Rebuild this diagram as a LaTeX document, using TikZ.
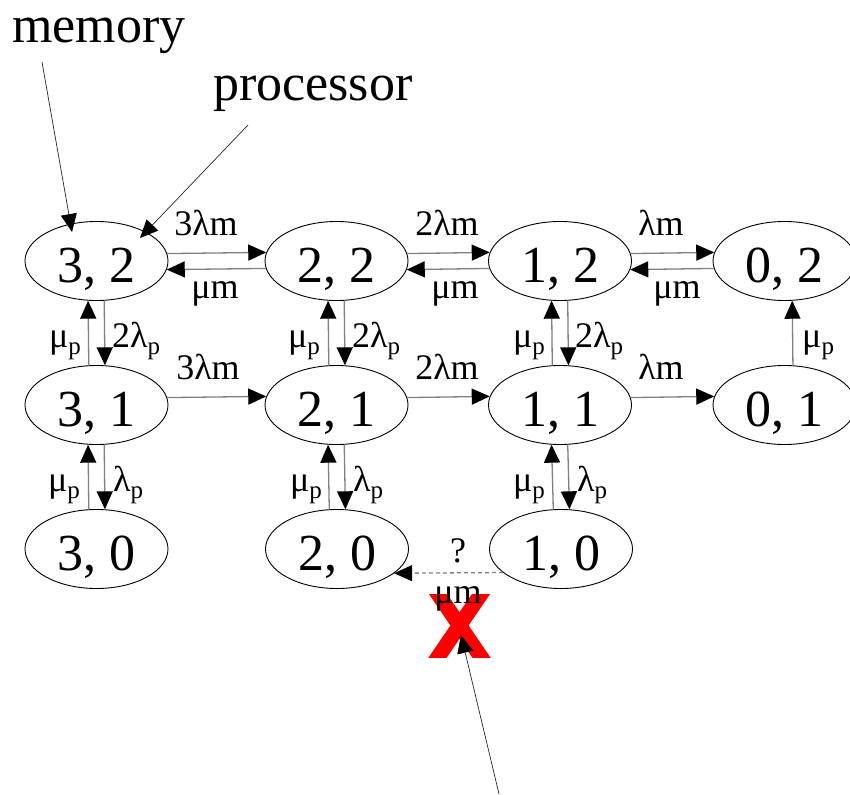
\documentclass[tikz,border=0pt]{standalone}
\usepackage{fontspec}
\setmainfont{Liberation Serif}
\usetikzlibrary{shapes.geometric,arrows.meta}

% lowered subscript p used in the rate labels
\newcommand{\subp}{\raisebox{-7pt}{\fontsize{25}{25}\selectfont p}}

\begin{document}
\begin{tikzpicture}[x=1pt,y=-1pt,
  state/.style={ellipse,draw=black,line width=0.9pt,inner sep=0pt,
    minimum width=143pt,minimum height=79pt,
    font=\fontsize{52}{52}\selectfont,text height=42pt,text depth=0pt},
  lbl/.style={font=\fontsize{36}{36}\selectfont,inner sep=0pt,anchor=base},
  lblL/.style={lbl,anchor=base east},
  lblR/.style={lbl,anchor=base west},
  title/.style={font=\fontsize{52}{52}\selectfont,inner sep=0pt,anchor=base west},
  head/.style={-{Triangle[length=18pt,width=16pt,color=black]}},
  flow/.style={draw=gray,line width=1.3pt,head},
  ptr/.style={draw=black!85,line width=0.7pt,head}
]
\useasboundingbox (0,0) rectangle (850,794);

% states (memory, processor)
\node[state] (n32) at (96.5,261) {3, 2};
\node[state] (n22) at (336.5,261) {2, 2};
\node[state] (n12) at (560,261) {1, 2};
\node[state] (n02) at (784.5,261) {0, 2};
\node[state] (n31) at (96.5,405) {3, 1};
\node[state] (n21) at (336.5,405) {2, 1};
\node[state] (n11) at (560,405) {1, 1};
\node[state] (n01) at (784.5,405) {0, 1};
\node[state] (n30) at (96.5,549) {3, 0};
\node[state] (n20) at (337,549) {2, 0};
\node[state] (n10) at (561,549) {1, 0};

% horizontal transitions, top row
\draw[flow] (n32.6.5) -- (n22.173.5);
\draw[flow] (n22.186.5) -- (n32.353.5);
\draw[flow] (n22.6.5) -- (n12.173.5);
\draw[flow] (n12.186.5) -- (n22.353.5);
\draw[flow] (n12.6.5) -- (n02.173.5);
\draw[flow] (n02.186.5) -- (n12.353.5);
% horizontal transitions, middle row
\draw[flow] (n31.6.5) -- (n21.173.5);
\draw[flow] (n21.6.5) -- (n11.173.5);
\draw[flow] (n11.6.5) -- (n01.173.5);

% vertical transitions
\foreach \u/\l in {32/31,22/21,12/11,31/30,21/20,11/10}{
  \draw[flow] (n\l.101.5) -- (n\u.258.5);
  \draw[flow] (n\u.281.5) -- (n\l.78.5);
}
\draw[flow] (n01.78.5) -- (n02.281.5);

% lost transition
\draw[flow,dashed,dash pattern=on 4pt off 3pt] (n10.202.9) -- (n20.337.1);

% red cross over the lost transition
\begin{scope}
  \clip (428,594) rectangle (491,657);
  \draw[red,line width=15pt] (425.1,575.1) -- (493.9,675.9);
  \draw[red,line width=15pt] (493.9,575.1) -- (425.1,675.9);
\end{scope}

% rate labels, horizontal
\node[lbl] (r1) at (206,235) {3λm};
\node[lbl] (r2) at (215,298) {μm};
\node[lbl] (r3) at (447,235) {2λm};
\node[lbl] (r4) at (455,298) {μm};
\node[lbl] (r5) at (661,235) {λm};
\node[lbl] (r6) at (677,298) {μm};
\node[lbl] (r7) at (208,379) {3λm};
\node[lbl] (r8) at (447,379) {2λm};
\node[lbl] (r9) at (661,379) {λm};

% rate labels, vertical
\node[lblL] (v1) at (81,347) {μ\subp};
\node[lblR] (v2) at (112,347) {2λ\subp};
\node[lblL] (v3) at (320,347) {μ\subp};
\node[lblR] (v4) at (352,347) {2λ\subp};
\node[lblL] (v5) at (545,347) {μ\subp};
\node[lblR] (v6) at (575,347) {2λ\subp};
\node[lblR] (v7) at (802,347) {μ\subp};
\node[lblL] (v8) at (80,491) {μ\subp};
\node[lblR] (v9) at (113,491) {λ\subp};
\node[lblL] (v10) at (322,491) {μ\subp};
\node[lblR] (v11) at (353,491) {λ\subp};
\node[lblL] (v12) at (545,491) {μ\subp};
\node[lblR] (v13) at (577,491) {λ\subp};

% labels of the lost transition
\node[lbl] (q) at (458,562) {?};
\node[lbl] (qm) at (458,603) {μm};

% annotations
\node[title] (mem) at (12,43) {memory};
\node[title] (proc) at (213,101) {processor};
\coordinate (memfrom) at (42,62);
\coordinate (memto) at (72,232);
\coordinate (procfrom) at (248,125);
\coordinate (procto) at (140,238);
\coordinate (xfrom) at (499,794);
\coordinate (xto) at (461,635);
\draw[ptr] (memfrom) -- (memto);
\draw[ptr] (procfrom) -- (procto);
\draw[ptr] (xfrom) -- (xto);
\end{tikzpicture}
\end{document}
